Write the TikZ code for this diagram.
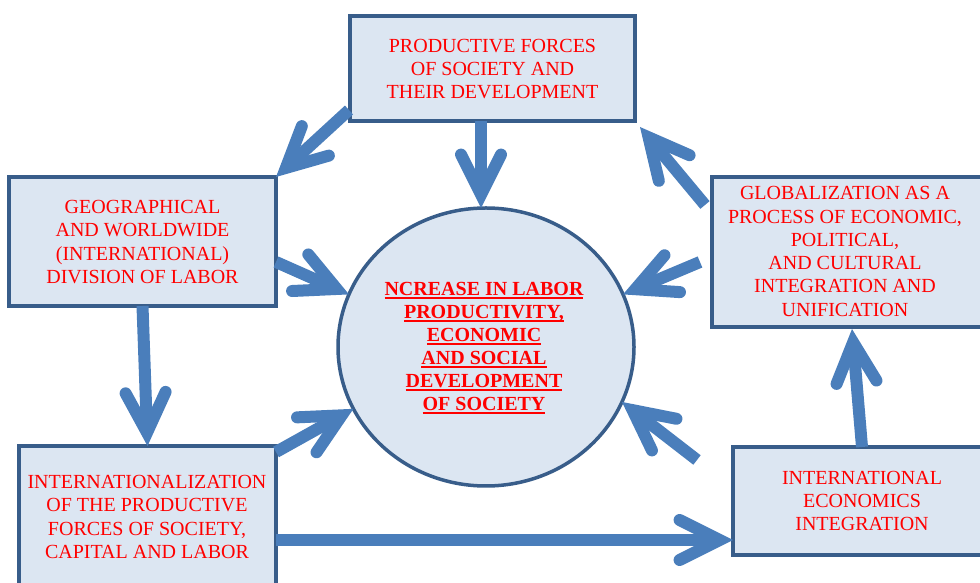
\documentclass[tikz,border=0pt]{standalone}
\usepackage{fontspec}
\setmainfont{Liberation Serif}
\usetikzlibrary{arrows.meta,shapes.geometric,calc}
\definecolor{arrowblue}{HTML}{4A7EBB}
\definecolor{boxfill}{HTML}{DCE6F2}
\definecolor{boxline}{HTML}{385D8A}
\definecolor{txtred}{HTML}{FF0000}
\newcommand\ulin[1]{\setbox0\hbox{#1}\rlap{\rule[-3.5pt]{\wd0}{2pt}}\box0}
\tikzset{
  boxnode/.style={draw=boxline, fill=boxfill, line width=3.5pt, rectangle, inner sep=0pt, outer sep=0pt},
  lbl/.style={text=txtred, align=center, font=\fontsize{20}{23.3}\selectfont, inner sep=0pt},
  bigarrow/.style={draw=arrowblue, line width=12pt,
    -{Straight Barb[length=40pt, width=40pt, line cap=round, line join=miter]}},
}
\begin{document}
\begin{tikzpicture}[x=1pt,y=1pt]
\useasboundingbox (0,0) rectangle (980,583);
% boxes
\node[boxnode, minimum width=285pt, minimum height=105pt] (top) at (492.5,514.5) {};
\node[boxnode, minimum width=267pt, minimum height=129pt] (left) at (142.5,341.5) {};
\node[boxnode, minimum width=273pt, minimum height=150pt] (right) at (848.5,331) {};
\node[boxnode, minimum width=257pt, minimum height=154pt] (botl) at (147.5,60) {};
\node[boxnode, minimum width=252pt, minimum height=108pt] (botr) at (859,82) {};
\node[draw=boxline, fill=boxfill, line width=3.5pt, ellipse, inner sep=0pt, outer sep=0pt,
      minimum width=296pt, minimum height=278pt] (circ) at (486,236) {};
% texts
\node[lbl] (toptext) at (492.5,514) {PRODUCTIVE FORCES\\OF SOCIETY AND\\THEIR DEVELOPMENT};
\node[lbl] (lefttext) at (142.5,341) {GEOGRAPHICAL\\AND WORLDWIDE\\(INTERNATIONAL)\\DIVISION OF LABOR};
\node[lbl] (righttext) at (845,331.5) {GLOBALIZATION AS A\\PROCESS OF ECONOMIC,\\POLITICAL,\\AND CULTURAL\\INTEGRATION AND\\UNIFICATION};
\node[lbl] (botltext) at (147,66) {INTERNATIONALIZATION\\OF THE PRODUCTIVE\\FORCES OF SOCIETY,\\CAPITAL AND LABOR};
\node[lbl] (botrtext) at (862,82) {INTERNATIONAL\\ECONOMICS\\INTEGRATION};
\node[lbl, font=\fontsize{20}{23.1}\selectfont\bfseries] (circtext) at (484,235) {\ulin{NCREASE IN LABOR}\\\ulin{PRODUCTIVITY,}\\\ulin{ECONOMIC}\\\ulin{AND SOCIAL}\\\ulin{DEVELOPMENT}\\\ulin{OF SOCIETY}};
% connectors
\coordinate (s1) at (349,473);
\coordinate (s2) at (481,462);
\coordinate (e2) at (481,375);
\coordinate (s3) at (276,321);
\coordinate (s5) at (276,131);
\coordinate (s6) at (276,43);
\coordinate (e6) at (733,43);
\coordinate (s7) at (862,136);
\coordinate (e7) at (852,254);
\coordinate (s8) at (697,123);
\coordinate (s9) at (700,321);
\coordinate (s10) at (705,378);
\coordinate (e10) at (640,456);
\draw[bigarrow] (s1) -- (left.north east);
\draw[bigarrow] (s2) -- (e2);
\draw[bigarrow] (s3) -- (circ.159);
\draw[bigarrow] (left.south) -- (botl.north);
\draw[bigarrow] (s5) -- (circ.205);
\draw[bigarrow] (s6) -- (e6);
\draw[bigarrow] (s7) -- (e7);
\draw[bigarrow] (s8) -- (circ.338);
\draw[bigarrow] (s9) -- (circ.21);
\draw[bigarrow] (s10) -- (e10);
\end{tikzpicture}
\end{document}
